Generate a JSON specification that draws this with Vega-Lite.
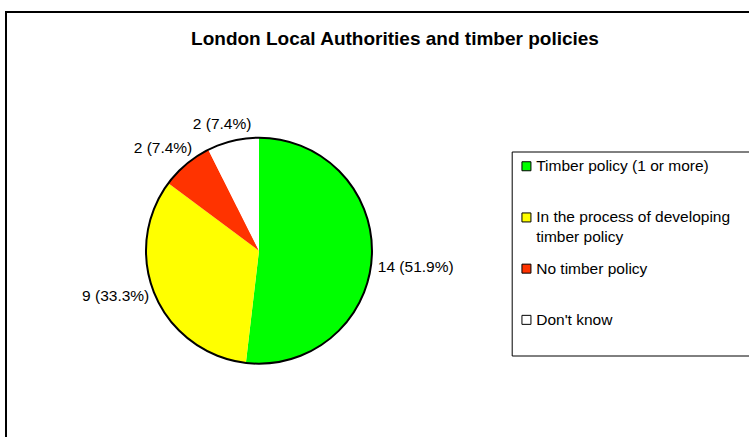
{
  "$schema": "https://vega.github.io/schema/vega-lite/v6.json",
  "autosize": "none",
  "width": 743,
  "height": 425,
  "padding": {"left": 6, "top": 12, "right": 0, "bottom": 0},
  "background": "white",
  "config": {
    "view": {"stroke": "black", "strokeWidth": 2, "strokeDash": [743, 1168, 425]},
    "font": "Liberation Sans"
  },
  "title": {
    "text": "London Local Authorities and timber policies",
    "font": "Liberation Sans",
    "fontSize": 19,
    "fontWeight": "bold",
    "color": "black",
    "frame": "group",
    "anchor": "middle",
    "offset": -37,
    "dx": 17.5
  },
  "data": {
    "values": [
      {"category": "Timber policy (1 or more)", "count": 14, "label": "14 (51.9%)", "rank": 1},
      {"category": "In the process of developing timber policy", "count": 9, "label": "9 (33.3%)", "rank": 2},
      {"category": "No timber policy", "count": 2, "label": "2 (7.4%)", "rank": 3},
      {"category": "Don't know", "count": 2, "label": "2 (7.4%)", "rank": 4}
    ]
  },
  "encoding": {
    "x": {"datum": 0.3405, "type": "quantitative", "scale": {"domain": [0, 1]}, "axis": null},
    "y": {"datum": 0.4384, "type": "quantitative", "scale": {"domain": [0, 1]}, "axis": null}
  },
  "layer": [
    {
      "mark": {"type": "arc", "radius": 113},
      "encoding": {
        "theta": {"field": "count", "type": "quantitative", "stack": true},
        "order": {"field": "rank", "type": "quantitative"},
        "color": {
          "field": "category",
          "type": "nominal",
          "scale": {
            "domain": ["Timber policy (1 or more)", "In the process of developing timber policy", "No timber policy", "Don't know"],
            "range": ["#00FF00", "#FFFF00", "#FF3300", "#FFFFFF"]
          },
          "legend": {
            "title": "\u2800",
            "titleOrient": "right",
            "titleFontSize": 10,
            "titlePadding": 6,
            "orient": "none",
            "legendX": 505.7,
            "legendY": 139.5,
            "strokeColor": "black",
            "fillColor": "white",
            "padding": 7,
            "gridAlign": "all",
            "symbolType": "square",
            "symbolSize": 81,
            "symbolStrokeColor": "black",
            "symbolStrokeWidth": 1,
            "symbolOpacity": 1,
            "labelFont": "Liberation Sans",
            "labelFontSize": 15.5,
            "labelColor": "black",
            "labelOffset": 2,
            "labelLimit": 400,
            "rowPadding": 14.2,
            "labelExpr": "datum.label == 'In the process of developing timber policy' ? ['In the process of developing', 'timber policy'] : (datum.label == 'Don\\'t know' ? ['Don\\'t know', ''] : datum.label)",
            "encode": {"labels": {"update": {"lineHeight": {"value": 20}}}}
          }
        }
      }
    },
    {
      "mark": {"type": "arc", "radius": 113, "theta": 6.2832, "filled": false, "stroke": "black", "strokeWidth": 2},
      "transform": [{"filter": "datum.rank == 1"}],
      "encoding": {}
    },
    {
      "mark": {"type": "text", "radius": 157, "dy": 7, "font": "Liberation Sans", "fontSize": 15.5, "color": "black"},
      "encoding": {
        "theta": {"field": "count", "type": "quantitative", "stack": true},
        "order": {"field": "rank", "type": "quantitative"},
        "detail": {"field": "category"},
        "text": {"condition": {"test": "datum.rank == 1", "field": "label"}, "value": ""}
      }
    },
    {
      "mark": {"type": "text", "radius": 149, "dx": -6.5, "dy": -14, "font": "Liberation Sans", "fontSize": 15.5, "color": "black"},
      "encoding": {
        "theta": {"field": "count", "type": "quantitative", "stack": true},
        "order": {"field": "rank", "type": "quantitative"},
        "detail": {"field": "category"},
        "text": {"condition": {"test": "datum.rank == 2", "field": "label"}, "value": ""}
      }
    },
    {
      "mark": {"type": "text", "radius": 140, "dx": -6, "dy": 5, "font": "Liberation Sans", "fontSize": 15.5, "color": "black"},
      "encoding": {
        "theta": {"field": "count", "type": "quantitative", "stack": true},
        "order": {"field": "rank", "type": "quantitative"},
        "detail": {"field": "category"},
        "text": {"condition": {"test": "datum.rank == 3", "field": "label"}, "value": ""}
      }
    },
    {
      "mark": {"type": "text", "radius": 132, "dx": -6.4, "dy": 1.4, "font": "Liberation Sans", "fontSize": 15.5, "color": "black"},
      "encoding": {
        "theta": {"field": "count", "type": "quantitative", "stack": true},
        "order": {"field": "rank", "type": "quantitative"},
        "detail": {"field": "category"},
        "text": {"condition": {"test": "datum.rank == 4", "field": "label"}, "value": ""}
      }
    }
  ]
}
